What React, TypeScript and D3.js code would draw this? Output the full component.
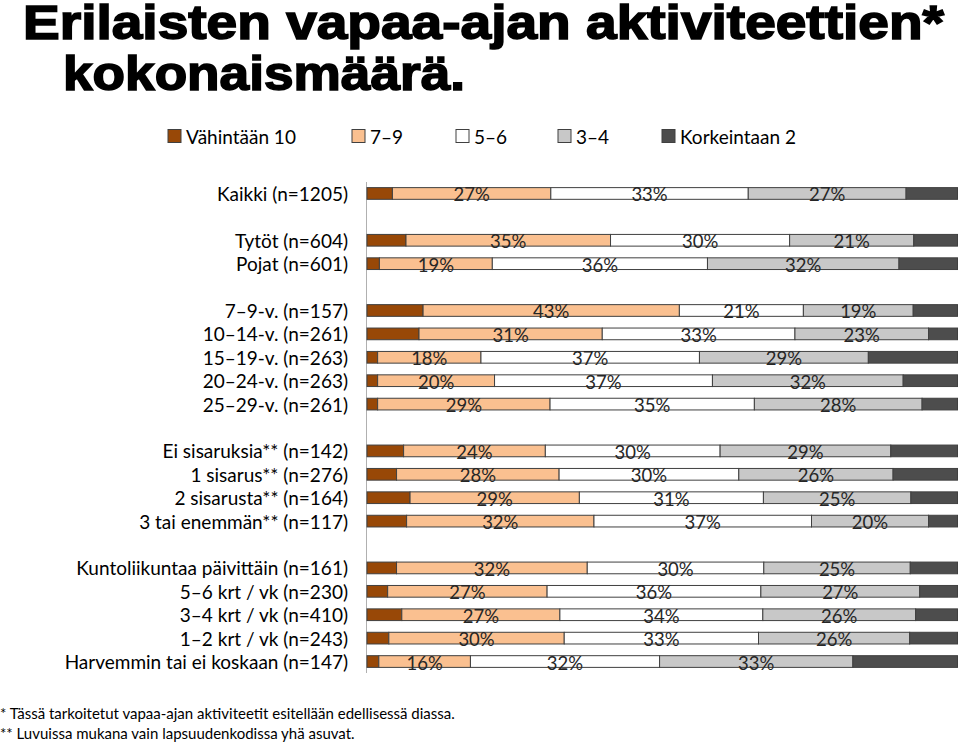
import * as d3 from "d3";

// categories per group (a gap row goes between groups)
const groupSizes = [1, 2, 5, 4, 5];
const categories = [
  "Kaikki (n=1205)",
  "Tytöt (n=604)",
  "Pojat (n=601)",
  "7–9-v. (n=157)",
  "10–14-v. (n=261)",
  "15–19-v. (n=263)",
  "20–24-v. (n=263)",
  "25–29-v. (n=261)",
  "Ei sisaruksia** (n=142)",
  "1 sisarus** (n=276)",
  "2 sisarusta** (n=164)",
  "3 tai enemmän** (n=117)",
  "Kuntoliikuntaa päivittäin (n=161)",
  "5–6 krt / vk (n=230)",
  "3–4 krt / vk (n=410)",
  "1–2 krt / vk (n=243)",
  "Harvemmin tai ei koskaan (n=147)",
];

const seriesNames = ["Vähintään 10", "7–9", "5–6", "3–4", "Korkeintaan 2"];
const seriesColors = ["#984807", "#fac090", "#ffffff", "#c8c8c8", "#4d4d4d"];

const vah10 = [4.3, 6.6, 2.1, 9.5, 8.8, 1.8, 1.8, 1.8, 6.2, 5.0, 7.3, 6.7, 5.0, 3.5, 5.9, 3.7, 2.0];
const s79 = [26.8, 34.6, 19.1, 43.4, 31.0, 17.5, 19.8, 29.2, 24.0, 27.5, 28.7, 31.7, 32.3, 27.0, 26.8, 29.7, 15.5];
const s56 = [33.4, 30.3, 36.4, 21.0, 32.6, 37.0, 36.9, 34.6, 29.6, 30.4, 31.2, 36.8, 29.9, 36.2, 34.4, 32.9, 32.0];
const s34 = [26.7, 21.0, 32.4, 18.6, 22.6, 28.6, 32.3, 28.4, 28.9, 26.1, 25.0, 19.8, 24.8, 26.9, 25.9, 25.6, 32.7];
const kork2 = [8.7, 7.4, 9.9, 7.5, 4.9, 15.1, 9.2, 6.0, 11.3, 10.9, 7.9, 4.9, 8.0, 6.4, 7.1, 8.1, 17.7];

// which segments get a % label
const labelled = ["7–9", "5–6", "3–4"];

const footnotes = [
  "* Tässä tarkoitetut vapaa-ajan aktiviteetit esitellään edellisessä diassa.",
  "** Luvuissa mukana vain lapsuudenkodissa yhä asuvat.",
];

const FONT = "Lato, 'Open Sans', sans-serif";

export default function App() {
  const width = 960;
  const height = 743;

  const rows = categories.map((c, i) => ({
    name: c,
    [seriesNames[0]]: vah10[i],
    [seriesNames[1]]: s79[i],
    [seriesNames[2]]: s56[i],
    [seriesNames[3]]: s34[i],
    [seriesNames[4]]: kork2[i],
  }));

  // band domain with gap slots between groups
  const domain: string[] = [];
  let k = 0;
  groupSizes.forEach((n, g) => {
    if (g > 0) domain.push("gap" + g);
    for (let j = 0; j < n; j++) domain.push(categories[k++]);
  });

  const y = d3
    .scaleBand<string>()
    .domain(domain)
    .range([182, 673])
    .paddingInner(0.5)
    .paddingOuter(0.24);

  const x = d3.scaleLinear().domain([0, 1]).range([367, 957.5]);

  const stacked = d3
    .stack<any>()
    .keys(seriesNames)
    .offset(d3.stackOffsetExpand)(rows);

  const color = d3.scaleOrdinal<string, string>().domain(seriesNames).range(seriesColors);

  const legendX = [168, 352, 456, 558, 662];

  return (
    <div style={{ position: "absolute", left: 0, top: 0 }}>
      <svg width={width} height={height} style={{ display: "block", background: "#fff" }}>
        <g
          fontFamily="'Liberation Sans Narrow', 'Arial Narrow', 'Liberation Sans', sans-serif"
          fontWeight="bold"
          fontSize={48}
          stroke="#000"
          strokeWidth={1.6}
        >
          <text x={23} y={39} textLength={921} lengthAdjust="spacingAndGlyphs">
            Erilaisten vapaa-ajan aktiviteettien*
          </text>
          <text x={63} y={90} textLength={402} lengthAdjust="spacingAndGlyphs">
            kokonaismäärä.
          </text>
        </g>

        {/* legend */}
        <g fontFamily={FONT} fontSize={19} fill="#000">
          {seriesNames.map((s, i) => (
            <g key={s} transform={`translate(${legendX[i]},136)`}>
              <rect x={0} y={-6.5} width={13} height={13} fill={color(s)} stroke="#404040" strokeWidth={1} />
              <text x={18} y={0} dominantBaseline="central">
                {s}
              </text>
            </g>
          ))}
        </g>

        {/* category labels */}
        <g fontFamily={FONT} fontSize={19} fill="#000" textAnchor="end">
          {categories.map((c) => (
            <text key={c} x={348} y={(y(c) ?? 0) + y.bandwidth() / 2} dominantBaseline="central">
              {c}
            </text>
          ))}
        </g>

        {/* axis line */}
        <line x1={x(0) - 0.5} x2={x(0) - 0.5} y1={182} y2={673} stroke="#b0b0b0" strokeWidth={1} />

        {/* bars */}
        {stacked.map((layer) => (
          <g key={layer.key} fill={color(layer.key)} stroke="#404040" strokeWidth={1}>
            {layer.map((d: any) => (
              <rect
                key={d.data.name}
                x={x(d[0])}
                y={y(d.data.name)}
                width={x(d[1]) - x(d[0])}
                height={y.bandwidth()}
              />
            ))}
          </g>
        ))}

        {/* value labels */}
        <g fontFamily={FONT} fontSize={18.5} fill="#262626" textAnchor="middle">
          {stacked
            .filter((layer) => labelled.includes(layer.key))
            .map((layer) =>
              layer.map((d: any) => (
                <text
                  key={layer.key + d.data.name}
                  x={(x(d[0]) + x(d[1])) / 2}
                  y={(y(d.data.name) ?? 0) + y.bandwidth() / 2 + 1}
                  dominantBaseline="central"
                >
                  {Math.round(d.data[layer.key]) + "%"}
                </text>
              ))
            )}
        </g>

        {/* footnotes */}
        <g fontFamily={FONT} fontSize={15} fill="#000">
          {footnotes.map((f, i) => (
            <text key={i} x={0} y={719 + i * 20}>
              {f}
            </text>
          ))}
        </g>
      </svg>
    </div>
  );
}
